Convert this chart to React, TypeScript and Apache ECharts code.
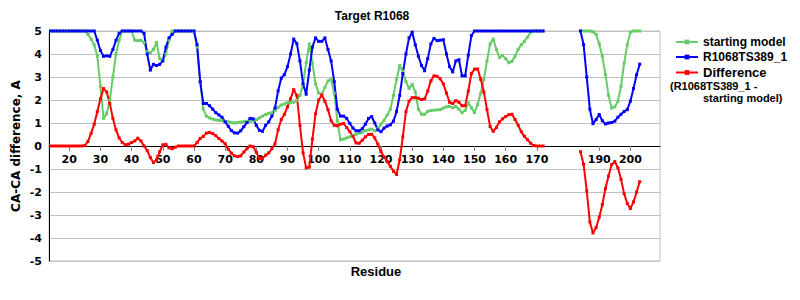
import React, { useEffect, useRef } from "react";
import * as echarts from "echarts";

// Residue categories shown on the x axis (first and last category of the plot)
const firstResidue = 14;
const lastResidue = 209;
const residues: number[] = [];
for (let r = firstResidue; r <= lastResidue; r++) residues.push(r);

// Residue labels drawn under the zero line
const tickLabels = [20, 30, 40, 50, 60, 70, 80, 90, 100, 110, 120, 130, 140, 150, 160, 170, 190, 200];

// First segment: residues 14..172
const seg1Start = 14;
const startingModelSeg1 = [
  5, 5, 5, 5, 5, 5, 5, 5, 5, 5, 5, 5,
  4.85, 4.65, 4.4, 3.9, 2.6, 1.2, 1.4, 2.0, 3.0, 4.0, 4.6,
  5, 5, 5, 5,
  4.6, 4.58, 4.6, 4.5, 4.1, 4.05, 4.2, 4.5, 3.8, 3.7, 4.0, 4.6,
  5, 5, 5, 5, 5, 5, 5, 5,
  4.3, 2.8, 1.6, 1.3, 1.22, 1.17, 1.13, 1.12, 1.1, 1.06, 1.05, 1.02, 1.0, 1.02, 1.04, 1.06, 1.07, 1.08, 1.1, 1.15,
  1.22, 1.3, 1.37, 1.42, 1.45, 1.55, 1.68, 1.78, 1.83, 1.88, 1.9, 1.9, 2.0, 2.2, 2.68, 3.63, 4.44, 3.6, 2.7, 2.3,
  2.25, 2.55, 2.83, 2.9, 2.3, 1.1, 0.27, 0.3, 0.35, 0.4, 0.46, 0.51, 0.56, 0.6, 0.66, 0.7, 0.73, 0.66, 0.75, 0.95,
  1.12, 1.35, 1.6, 2.2, 2.9, 3.5, 3.25, 2.8, 2.5, 2.68, 2.35, 1.6, 1.38, 1.38, 1.51, 1.54, 1.56, 1.57, 1.58, 1.65,
  1.7, 1.72, 1.66, 1.72, 1.6, 1.45, 1.55, 1.88, 1.66, 1.45, 1.8, 2.3, 2.9, 3.7, 4.44, 4.65, 4.2, 3.85, 3.93, 3.8,
  3.62, 3.68, 3.9, 4.2, 4.4, 4.55, 4.73, 4.95,
  5, 5, 5, 5,
];
const modelSeg1 = [
  5, 5, 5, 5, 5, 5, 5, 5, 5, 5, 5, 5, 5, 5, 5,
  4.6, 4.15, 3.9, 3.92, 3.9, 4.2, 4.6, 4.9,
  5, 5, 5, 5, 5, 5, 5,
  4.9, 4.0, 3.3, 3.55, 3.5, 3.55, 3.7, 4.3, 4.7, 4.85,
  5, 5, 5, 5, 5, 5, 5,
  4.4, 2.8, 1.85, 1.85, 1.75, 1.6, 1.45, 1.35, 1.25, 1.05, 0.86, 0.67, 0.57, 0.56, 0.66, 0.84, 1.02, 1.2, 1.18, 0.9,
  0.68, 0.64, 0.9, 1.05, 1.3, 1.65, 2.4, 2.95, 3.1, 3.45, 4.0, 4.65, 4.45, 3.7, 2.7, 2.25, 3.3, 4.3, 4.7, 4.55,
  4.55, 4.7, 4.2, 3.7, 2.8, 1.6, 1.3, 1.3, 1.2, 0.98, 0.78, 0.66, 0.66, 0.75, 0.95, 1.2, 1.28, 1.0, 0.7, 0.62,
  0.78, 0.87, 0.92, 1.08, 1.5, 2.2, 3.15, 4.0, 4.7, 4.95, 4.4, 3.9, 3.5, 3.27, 3.8, 4.44, 4.68, 4.58, 4.6, 4.62,
  4.0, 3.45, 3.22, 3.7, 3.75, 3.05, 3.05, 3.95, 4.8,
  5, 5, 5, 5, 5, 5, 5, 5, 5, 5, 5, 5, 5, 5, 5, 5, 5, 5, 5, 5, 5, 5, 5,
];
const differenceSeg1 = [
  0, 0, 0, 0, 0, 0, 0, 0, 0, 0, 0,
  0.02, 0.2, 0.55, 0.95, 1.5, 2.05, 2.5, 2.35, 1.85, 1.2, 0.7, 0.35, 0.15, 0.05, 0.08, 0.15, 0.22, 0.34, 0.22, 0.0,
  -0.2, -0.5, -0.72, -0.6, -0.25, 0.05, 0.07, -0.08, -0.12, -0.05,
  0, 0, 0, 0, 0, 0,
  0.15, 0.33, 0.42, 0.56, 0.59, 0.54, 0.45, 0.33, 0.22, 0.1, -0.14, -0.31, -0.43, -0.46, -0.43, -0.26, -0.12, 0.0, -0.03, -0.27,
  -0.55, -0.53, -0.4, -0.3, -0.12, 0.1, 0.7, 1.15, 1.37, 1.7, 2.05, 2.45, 2.2, 0.9, -0.3, -0.95, -0.92, 0.3, 1.4, 2.0,
  2.22, 1.95, 1.58, 1.1, 0.9, 0.88, 0.95, 0.98, 0.8, 0.62, 0.42, 0.13, 0.12, 0.25, 0.4, 0.5, 0.51, 0.35, 0.08, -0.25,
  -0.48, -0.68, -0.88, -1.1, -1.24, -0.6, 0.4, 1.5, 1.95, 2.1, 2.1, 2.08, 2.02, 2.05, 2.39, 2.83, 3.05, 3.03, 2.92, 2.7,
  2.3, 1.9, 1.85, 1.97, 1.9, 1.75, 1.75, 2.39, 3.15, 3.34, 3.35, 2.9, 2.35, 1.58, 0.85, 0.64, 0.8, 1.05, 1.18, 1.28,
  1.36, 1.38, 1.15, 0.9, 0.62, 0.42, 0.27, 0.12, 0.02,
  0, 0, 0,
];

// Second segment: residues 184..203
const seg2Start = 184;
const startingModelSeg2 = [5, 5, 5, 5, 4.97, 4.85, 4.45, 3.9, 3.1, 2.2, 1.65, 1.7, 1.95, 2.6, 3.6, 4.4, 4.95, 5, 5, 5];
const modelSeg2 = [5, 4.4, 3.0, 1.6, 0.97, 1.15, 1.37, 1.1, 0.96, 1.0, 1.02, 1.08, 1.25, 1.38, 1.5, 1.58, 1.95, 2.5, 3.1, 3.56];
const differenceSeg2 = [-0.25, -0.8, -1.95, -3.3, -3.78, -3.55, -3.1, -2.55, -1.85, -1.3, -0.8, -0.68, -0.95, -1.45, -2.07, -2.5, -2.72, -2.43, -2.0, -1.55];

function assemble(seg1: number[], seg2: number[]): (number | null)[] {
  return residues.map((r) => {
    if (r >= seg1Start && r < seg1Start + seg1.length) return seg1[r - seg1Start];
    if (r >= seg2Start && r < seg2Start + seg2.length) return seg2[r - seg2Start];
    return null;
  });
}

const GREEN = "#66CC66";
const BLUE = "#0000FF";
const RED = "#FF0000";

// grid geometry
const GRID_TOP = 31;
const GRID_BOTTOM = 39;
const CHART_H = 300;
const Y_MIN = -5;
const Y_MAX = 5;

export default function App() {
  const ref = useRef<HTMLDivElement>(null);

  useEffect(() => {
    if (!ref.current) return;
    const chart = echarts.init(ref.current, undefined, { renderer: "svg" });
    const showLabel = (_i: number, v: string | number) => tickLabels.includes(Number(v));
    const lineSeries = (name: string, color: string, data: (number | null)[]) => ({
      name,
      type: "line",
      data,
      color,
      lineStyle: { color, width: 2 },
      itemStyle: { color },
      symbol: "rect",
      symbolSize: 3,
      showSymbol: true,
      showAllSymbol: true,
      connectNulls: false,
      clip: false,
      emphasis: { disabled: true },
    });

    // distance from the bottom edge of the grid up to the zero line
    const plotH = CHART_H - GRID_TOP - GRID_BOTTOM;
    const zeroOffset = (plotH * (0 - Y_MIN)) / (Y_MAX - Y_MIN);

    chart.setOption({
      animation: false,
      backgroundColor: "#ffffff",
      title: {
        text: "Target R1068",
        left: 367,
        top: 5,
        textAlign: "center",
        textStyle: { fontFamily: "Liberation Sans", fontWeight: "bold", fontSize: 12, color: "#000" },
      },
      legend: {
        orient: "vertical",
        left: 670,
        top: 31,
        itemWidth: 22,
        itemHeight: 6,
        itemGap: 3,
        textStyle: { fontFamily: "Liberation Sans", fontWeight: "bold", fontSize: 12, color: "#000" },
        data: [
          { name: "starting model" },
          { name: "R1068TS389_1" },
          { name: "Difference", textStyle: { fontSize: 13 } },
        ],
      },
      grid: {
        left: 49,
        right: 140,
        top: GRID_TOP,
        bottom: GRID_BOTTOM,
        show: true,
        borderColor: "#C0C0C0",
        borderWidth: 1,
        backgroundColor: "#ffffff",
      },
      xAxis: {
        type: "category",
        data: residues.map(String),
        boundaryGap: true,
        offset: -zeroOffset,
        axisLine: { onZero: false, lineStyle: { color: "#000", width: 1 } },
        axisTick: { show: true, interval: showLabel, alignWithLabel: true, length: 5, lineStyle: { color: "#808080" } },
        axisLabel: {
          interval: showLabel,
          margin: 8,
          fontFamily: "DejaVu Sans",
          fontWeight: "bold",
          fontSize: 11,
          color: "#000",
        },
        splitLine: { show: false },
      },
      yAxis: {
        type: "value",
        min: Y_MIN,
        max: Y_MAX,
        interval: 1,
        axisLine: { show: true, lineStyle: { color: "#000", width: 1 } },
        axisTick: { show: false },
        axisLabel: { margin: 7, fontFamily: "DejaVu Sans", fontWeight: "bold", fontSize: 11, color: "#000" },
        splitLine: { show: true, lineStyle: { color: "#C0C0C0", width: 1 } },
      },
      graphic: [
        {
          type: "text",
          x: 16,
          y: 146,
          rotation: Math.PI / 2,
          style: {
            text: "CA-CA difference, A",
            fontFamily: "DejaVu Sans",
            fontWeight: "bold",
            fontSize: 12,
            fill: "#000",
            textAlign: "center",
            textVerticalAlign: "middle",
          },
        },
        {
          type: "text",
          x: 376,
          y: 271,
          style: {
            text: "Residue",
            fontFamily: "Liberation Sans",
            fontWeight: "bold",
            fontSize: 13,
            fill: "#000",
            textAlign: "center",
            textVerticalAlign: "middle",
          },
        },
        {
          type: "text",
          x: 670,
          y: 86,
          style: {
            text: "(R1068TS389_1 -",
            fontFamily: "Liberation Sans",
            fontWeight: "bold",
            fontSize: 11,
            fill: "#000",
            textAlign: "left",
            textVerticalAlign: "middle",
          },
        },
        {
          type: "text",
          x: 703,
          y: 98,
          style: {
            text: "starting model)",
            fontFamily: "Liberation Sans",
            fontWeight: "bold",
            fontSize: 11,
            fill: "#000",
            textAlign: "left",
            textVerticalAlign: "middle",
          },
        },
      ],
      series: [
        lineSeries("starting model", GREEN, assemble(startingModelSeg1, startingModelSeg2)),
        lineSeries("R1068TS389_1", BLUE, assemble(modelSeg1, modelSeg2)),
        lineSeries("Difference", RED, assemble(differenceSeg1, differenceSeg2)),
      ],
    });
    return () => chart.dispose();
  }, []);

  return (
    <div
      ref={ref}
      style={{ position: "fixed", left: 0, top: 0, width: 800, height: 300, background: "#fff" }}
    />
  );
}
